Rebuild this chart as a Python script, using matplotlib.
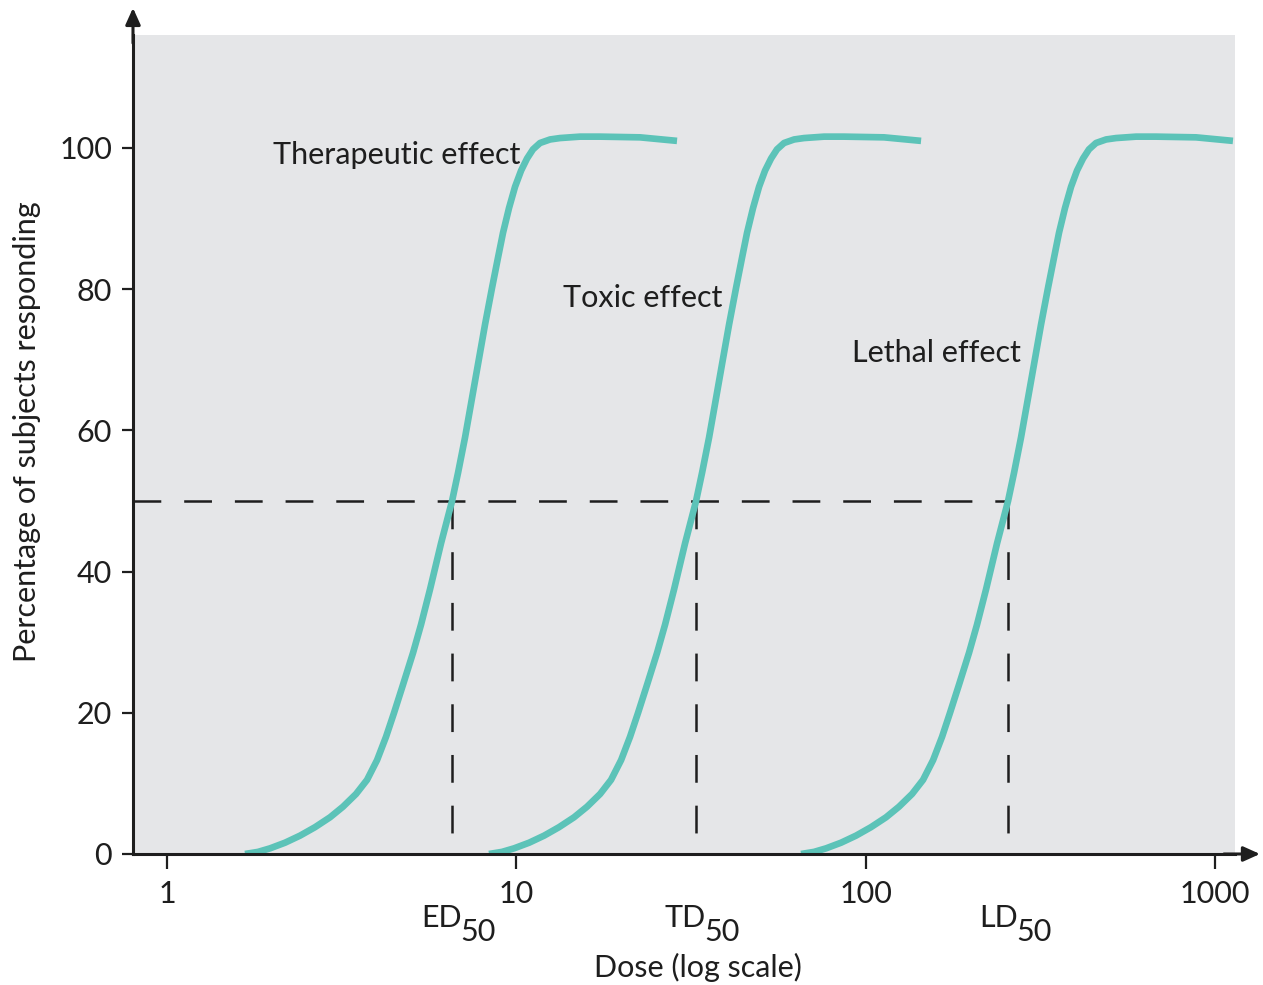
import matplotlib
matplotlib.use("Agg")
import matplotlib.pyplot as plt

plt.rcParams['font.family'] = ['Lato', 'DejaVu Sans']
plt.rcParams['lines.scale_dashes'] = False

# dose-response curves (dose, % responding)
response = [0, 0.3, 0.8, 1.6, 2.6, 3.8, 5.2, 6.7, 8.5, 10.5, 13.3, 16.6, 20,
            24, 28.5, 32.5, 37.5, 44, 50, 54, 59, 63.8, 69.4, 75, 80.2, 84.5,
            88, 91.5, 94.5, 96.8, 98.5, 99.8, 100.7, 101.2, 101.4, 101.6,
            101.6, 101.5, 101]
dose_therapeutic = [1.672, 1.822, 1.972, 2.177, 2.403, 2.653, 2.929, 3.190,
                    3.476, 3.738, 3.993, 4.236, 4.466, 4.739, 5.062, 5.336,
                    5.662, 6.087, 6.546, 6.810, 7.131, 7.419, 7.769, 8.136,
                    8.520, 8.865, 9.161, 9.530, 9.915, 10.32, 10.73, 11.16,
                    11.69, 12.49, 13.34, 15.22, 17.36, 22.60, 28.84]
dose_toxic = [8.35, 9.10, 9.85, 10.88, 12.01, 13.25, 14.63, 15.94, 17.37,
              18.67, 19.95, 21.16, 22.31, 23.68, 25.29, 26.66, 28.29, 30.41,
              32.70, 34.02, 35.63, 37.07, 38.81, 40.65, 42.57, 44.29, 45.77,
              47.61, 49.53, 51.53, 53.61, 55.75, 58.40, 62.40, 66.65, 76.04,
              86.73, 112.9, 144.1]
dose_lethal = [65.31, 71.17, 77.03, 85.03, 93.86, 103.6, 114.4, 124.6, 135.8,
               146.0, 156.0, 165.5, 174.4, 185.1, 197.7, 208.4, 221.2, 237.8,
               255.7, 266.0, 278.5, 289.8, 303.5, 317.8, 332.8, 346.3, 357.8,
               372.2, 387.3, 402.9, 419.1, 435.9, 456.6, 487.9, 521.1, 594.5,
               678.1, 882.8, 1126]

ed50, td50, ld50 = 6.55, 32.7, 256
x_ticks = [1, 10, 100, 1000]
y_ticks = [0, 20, 40, 60, 80, 100]

teal = '#5cc3b8'
ink = '#1e1e1e'

fig = plt.figure(figsize=(12.63, 9.85), dpi=100)
ax = fig.add_axes([0.1053, 0.1330, 0.8725, 0.8315])
ax.set_facecolor('#e5e6e8')
ax.set_xscale('log')
ax.set_xlim(0.799, 1141)
ax.set_ylim(0, 116)

for d in (dose_therapeutic, dose_toxic, dose_lethal):
    ax.plot(d, response, color=teal, lw=4.8, solid_capstyle='butt',
            solid_joinstyle='round', zorder=3)

# 50 % guide lines
ax.plot([0.799, ld50], [50, 50], color=ink, lw=1.8, dashes=(20, 16.5), zorder=2)
for x50 in (ed50, td50, ld50):
    ax.plot([x50, x50], [50, 0], color=ink, lw=1.8, dashes=(20, 16.5), zorder=2)

for s in ('top', 'right'):
    ax.spines[s].set_visible(False)
for s in ('left', 'bottom'):
    ax.spines[s].set_linewidth(2.2)
    ax.spines[s].set_color(ink)
    ax.spines[s].set_zorder(4)

# axis arrows
ax.annotate('', xy=(0, 1.033), xytext=(0, 0.99), xycoords='axes fraction',
            arrowprops=dict(arrowstyle='-|>,head_length=1.0,head_width=0.45',
                            color=ink, lw=2.2, shrinkA=0, shrinkB=0), annotation_clip=False)
ax.annotate('', xy=(1.0227, 0), xytext=(0.99, 0), xycoords='axes fraction',
            arrowprops=dict(arrowstyle='-|>,head_length=1.0,head_width=0.45',
                            color=ink, lw=2.2, shrinkA=0, shrinkB=0), annotation_clip=False)

ax.set_xticks(x_ticks)
ax.set_xticklabels([str(t) for t in x_ticks])
ax.xaxis.set_minor_locator(matplotlib.ticker.NullLocator())
ax.set_yticks(y_ticks)
ax.tick_params(axis='x', length=11, width=1.6, pad=8, labelsize=22, colors=ink)
ax.tick_params(axis='y', length=8, width=1.6, pad=7, labelsize=22, colors=ink)

ax.text(2.01, 99.0, 'Therapeutic effect', fontsize=22, color=ink, va='center', ha='left')
ax.text(13.6, 78.8, 'Toxic effect', fontsize=22, color=ink, va='center', ha='left')
ax.text(91.4, 71.0, 'Lethal effect', fontsize=22, color=ink, va='center', ha='left')

tr = ax.get_xaxis_transform()
for name, x50 in (('ED', ed50), ('TD', td50), ('LD', ld50)):
    ax.annotate(name, xy=(x50, -0.078), xycoords=tr, xytext=(7, 0),
                textcoords='offset points', ha='right', va='center',
                fontsize=22, color=ink, annotation_clip=False)
    ax.annotate('50', xy=(x50, -0.078), xycoords=tr, xytext=(6, -10),
                textcoords='offset points', ha='left', va='center',
                fontsize=22, color=ink, annotation_clip=False)

fig.text(698 / 1263, 1 - 967 / 985, 'Dose (log scale)', fontsize=22, color=ink,
         ha='center', va='center')
fig.text(27 / 1263, 1 - 432 / 985, 'Percentage of subjects responding', fontsize=22,
         color=ink, ha='center', va='center', rotation=90)

fig.savefig('out.png', dpi=100, facecolor='white')
